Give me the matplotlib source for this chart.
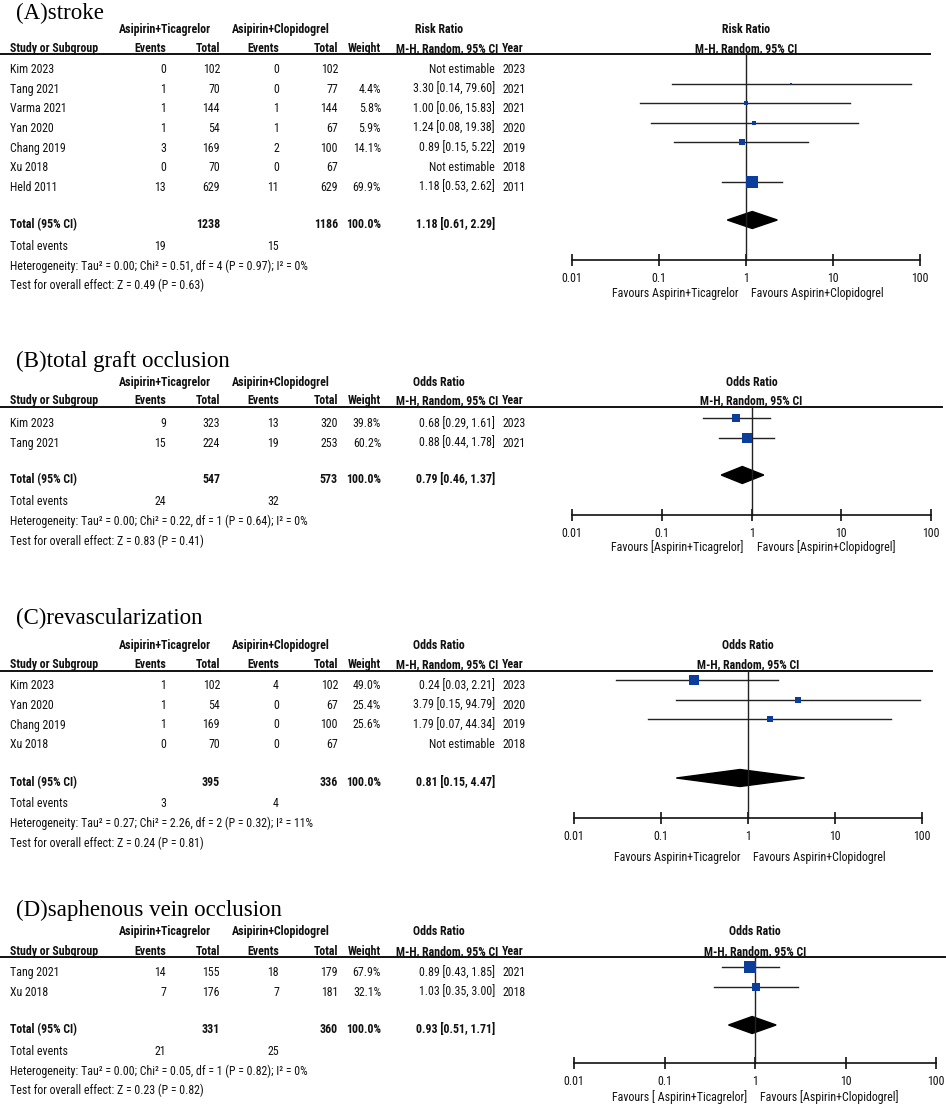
import numpy as np
import matplotlib
matplotlib.use('Agg')
import matplotlib.pyplot as plt
from matplotlib.patches import Polygon
from matplotlib.ticker import NullLocator

# ---- data ----
# (A) stroke
a_study = ['Kim 2023', 'Tang 2021', 'Varma 2021', 'Yan 2020', 'Chang 2019', 'Xu 2018', 'Held 2011']
a_ev1 = [0, 1, 1, 1, 3, 0, 13]
a_tot1 = [102, 70, 144, 54, 169, 70, 629]
a_ev2 = [0, 0, 1, 1, 2, 0, 11]
a_tot2 = [102, 77, 144, 67, 100, 67, 629]
a_weight = [None, 4.4, 5.8, 5.9, 14.1, None, 69.9]
a_est = [None, 3.30, 1.00, 1.24, 0.89, None, 1.18]
a_lo = [None, 0.14, 0.06, 0.08, 0.15, None, 0.53]
a_hi = [None, 79.60, 15.83, 19.38, 5.22, None, 2.62]
a_year = [2023, 2021, 2021, 2020, 2019, 2018, 2011]
a_total = [1238, 1186]
a_pooled = [1.18, 0.61, 2.29]
a_events = [19, 15]
a_het = [0.00, 0.51, 4, 0.97, 0]   # tau2, chi2, df, p, I2
a_z = [0.49, 0.63]

# (B) total graft occlusion
b_study = ['Kim 2023', 'Tang 2021']
b_ev1 = [9, 15]
b_tot1 = [323, 224]
b_ev2 = [13, 19]
b_tot2 = [320, 253]
b_weight = [39.8, 60.2]
b_est = [0.68, 0.88]
b_lo = [0.29, 0.44]
b_hi = [1.61, 1.78]
b_year = [2023, 2021]
b_total = [547, 573]
b_pooled = [0.79, 0.46, 1.37]
b_events = [24, 32]
b_het = [0.00, 0.22, 1, 0.64, 0]
b_z = [0.83, 0.41]

# (C) revascularization
c_study = ['Kim 2023', 'Yan 2020', 'Chang 2019', 'Xu 2018']
c_ev1 = [1, 1, 1, 0]
c_tot1 = [102, 54, 169, 70]
c_ev2 = [4, 0, 0, 0]
c_tot2 = [102, 67, 100, 67]
c_weight = [49.0, 25.4, 25.6, None]
c_est = [0.24, 3.79, 1.79, None]
c_lo = [0.03, 0.15, 0.07, None]
c_hi = [2.21, 94.79, 44.34, None]
c_year = [2023, 2020, 2019, 2018]
c_total = [395, 336]
c_pooled = [0.81, 0.15, 4.47]
c_events = [3, 4]
c_het = [0.27, 2.26, 2, 0.32, 11]
c_z = [0.24, 0.81]

# (D) saphenous vein occlusion
d_study = ['Tang 2021', 'Xu 2018']
d_ev1 = [14, 7]
d_tot1 = [155, 176]
d_ev2 = [18, 7]
d_tot2 = [179, 181]
d_weight = [67.9, 32.1]
d_est = [0.89, 1.03]
d_lo = [0.43, 0.35]
d_hi = [1.85, 3.00]
d_year = [2021, 2018]
d_total = [331, 360]
d_pooled = [0.93, 0.51, 1.71]
d_events = [21, 25]
d_het = [0.00, 0.05, 1, 0.82, 0]
d_z = [0.23, 0.82]

titles = ['(A)stroke', '(B)total graft occlusion', '(C)revascularization', '(D)saphenous vein occlusion']
measures = ['Risk Ratio', 'Odds Ratio', 'Odds Ratio', 'Odds Ratio']
fav_left = ['Favours Aspirin+Ticagrelor', 'Favours [Aspirin+Ticagrelor]',
            'Favours Aspirin+Ticagrelor', 'Favours [ Aspirin+Ticagrelor]']
fav_right = ['Favours Aspirin+Clopidogrel', 'Favours [Aspirin+Clopidogrel]',
             'Favours Aspirin+Clopidogrel', 'Favours [Aspirin+Clopidogrel]']
ticks = [0.01, 0.1, 1, 10, 100]
tick_labels = ['0.01', '0.1', '1', '10', '100']

panels = [
    (a_study, a_ev1, a_tot1, a_ev2, a_tot2, a_weight, a_est, a_lo, a_hi, a_year, a_total, a_pooled, a_events, a_het, a_z),
    (b_study, b_ev1, b_tot1, b_ev2, b_tot2, b_weight, b_est, b_lo, b_hi, b_year, b_total, b_pooled, b_events, b_het, b_z),
    (c_study, c_ev1, c_tot1, c_ev2, c_tot2, c_weight, c_est, c_lo, c_hi, c_year, c_total, c_pooled, c_events, c_het, c_z),
    (d_study, d_ev1, d_tot1, d_ev2, d_tot2, d_weight, d_est, d_lo, d_hi, d_year, d_total, d_pooled, d_events, d_het, d_z),
]

# ---- layout (pixels, y from top) ----
W, H = 946, 1106
layout = [
    dict(title=13, h1=29, h2=48, line=53.5, row0=69, total=224, events=246, het=266, test=285,
         axis=260, fav=293, x0=572, x1=920, xend=930),
    dict(title=361, h1=382, h2=400, line=406.5, row0=423, total=479, events=501, het=521, test=541,
         axis=515, fav=547, x0=572, x1=931, xend=942),
    dict(title=618, h1=645, h2=664, line=670.5, row0=685, total=782, events=803, het=823, test=843,
         axis=818, fav=857, x0=574, x1=922, xend=932),
    dict(title=910, h1=931, h2=951, line=957, row0=972, total=1029, events=1051, het=1071, test=1090,
         axis=1063, fav=1097, x0=574, x1=936, xend=945),
]
ROW_STEP = 19.6

# column positions
COL_STUDY = 10
COL_EV1 = 166
COL_TOT1 = 220
COL_EV2 = 279
COL_TOT2 = 338
COL_W = 381
COL_CI = 495
COL_CI_HEAD = 498
COL_YEAR = 502
GRP1_C = 165
GRP2_C = 281
RATIO_C = 439

BLUE = '#0a3d9c'
SANS = ['Roboto Condensed', 'DejaVu Sans']
FS = 8.6
SERIF = 'Liberation Serif'
BASE = 0.36 * FS * 100 / 72  # digit centre -> baseline

fig = plt.figure(figsize=(W / 100, H / 100), dpi=100)
bg = fig.add_axes([0, 0, 1, 1])
bg.set_xlim(0, W)
bg.set_ylim(H, 0)
bg.axis('off')


def txt(x, yc, s, ha='left', bold=False):
    bg.text(x, yc + BASE, s, ha=ha, va='baseline', fontsize=FS, family=SANS,
            fontweight='bold' if bold else 'normal', color='#111111')


for i, (study, ev1, tot1, ev2, tot2, wt, est, lo, hi, year, total, pooled, events, het, zz) in enumerate(panels):
    L = layout[i]
    bg.text(16, L['title'], titles[i], family=SERIF, fontsize=16.5, va='center', ha='left')

    # headers
    txt(GRP1_C, L['h1'], 'Asipirin+Ticagrelor', ha='center', bold=True)
    txt(GRP2_C, L['h1'], 'Asipirin+Clopidogrel', ha='center', bold=True)
    txt(RATIO_C, L['h1'], measures[i], ha='center', bold=True)
    txt(COL_STUDY, L['h2'], 'Study or Subgroup', bold=True)
    txt(COL_EV1, L['h2'], 'Events', ha='right', bold=True)
    txt(COL_TOT1, L['h2'], 'Total', ha='right', bold=True)
    txt(COL_EV2, L['h2'], 'Events', ha='right', bold=True)
    txt(COL_TOT2, L['h2'], 'Total', ha='right', bold=True)
    txt(COL_W, L['h2'], 'Weight', ha='right', bold=True)
    txt(COL_CI_HEAD, L['h2'], 'M-H, Random, 95% CI', ha='right', bold=True)
    txt(COL_YEAR, L['h2'], 'Year', bold=True)
    bg.plot([0, L['xend']], [L['line'], L['line']], color='#111111', lw=1.4)

    # study rows
    for j in range(len(study)):
        y = L['row0'] + j * ROW_STEP
        txt(COL_STUDY, y, study[j])
        txt(COL_EV1, y, str(ev1[j]), ha='right')
        txt(COL_TOT1, y, str(tot1[j]), ha='right')
        txt(COL_EV2, y, str(ev2[j]), ha='right')
        txt(COL_TOT2, y, str(tot2[j]), ha='right')
        if wt[j] is None:
            txt(COL_CI, y, 'Not estimable', ha='right')
        else:
            txt(COL_W, y, f'{wt[j]:.1f}%', ha='right')
            txt(COL_CI, y, f'{est[j]:.2f} [{lo[j]:.2f}, {hi[j]:.2f}]', ha='right')
        txt(COL_YEAR, y, str(year[j]))

    # totals
    txt(COL_STUDY, L['total'], 'Total (95% CI)', bold=True)
    txt(COL_TOT1, L['total'], str(total[0]), ha='right', bold=True)
    txt(COL_TOT2, L['total'], str(total[1]), ha='right', bold=True)
    txt(COL_W, L['total'], '100.0%', ha='right', bold=True)
    txt(COL_CI, L['total'], f'{pooled[0]:.2f} [{pooled[1]:.2f}, {pooled[2]:.2f}]', ha='right', bold=True)
    txt(COL_STUDY, L['events'], 'Total events')
    txt(COL_EV1, L['events'], str(events[0]), ha='right')
    txt(COL_EV2, L['events'], str(events[1]), ha='right')
    txt(COL_STUDY, L['het'],
        f'Heterogeneity: Tau\u00b2 = {het[0]:.2f}; Chi\u00b2 = {het[1]:.2f}, df = {het[2]} '
        f'(P = {het[3]:.2f}); I\u00b2 = {het[4]}%')
    txt(COL_STUDY, L['test'], f'Test for overall effect: Z = {zz[0]:.2f} (P = {zz[1]:.2f})')

    # forest plot
    ax = fig.add_axes([L['x0'] / W, 1 - L['axis'] / H, (L['x1'] - L['x0']) / W, (L['axis'] - L['line']) / H])
    ax.set_xscale('log')
    ax.set_xlim(0.01, 100)
    ax.set_ylim(L['axis'], L['line'])
    ax.patch.set_alpha(0)
    for s in ['top', 'right', 'left']:
        ax.spines[s].set_visible(False)
    ax.spines['bottom'].set_linewidth(1.2)
    ax.spines['bottom'].set_color('#111111')
    ax.set_xticks(ticks)
    ax.set_xticklabels(tick_labels)
    ax.xaxis.set_minor_locator(NullLocator())
    ax.set_yticks([])
    ax.tick_params(axis='x', direction='inout', length=9, width=1.2, pad=4, labelsize=FS, colors='#111111')
    for lab in ax.get_xticklabels():
        lab.set_family(SANS)

    ax.plot([1, 1], [L['axis'], L['line']], color='#222222', lw=1.0, clip_on=False)
    for j in range(len(study)):
        if est[j] is None:
            continue
        y = L['row0'] + j * ROW_STEP - 5
        ax.plot([lo[j], hi[j]], [y, y], color='#222222', lw=1.0, clip_on=False)
        side = 1.35 * np.sqrt(wt[j])
        ax.plot(est[j], y, 's', ms=side * 0.72, color=BLUE, mew=0, clip_on=False)
    yc = L['total'] - 4
    ax.add_patch(Polygon([(pooled[1], yc), (pooled[0], yc - 8.5), (pooled[2], yc), (pooled[0], yc + 8.5)],
                         closed=True, color='black', clip_on=False))

    xm = (L['x0'] + L['x1']) / 2
    txt(xm - 8, L['fav'], fav_left[i], ha='right')
    txt(xm + 5, L['fav'], fav_right[i], ha='left')
    txt(xm, L['h1'], measures[i], ha='center', bold=True)
    txt(xm, L['h2'], 'M-H, Random, 95% CI', ha='center', bold=True)

fig.savefig('out.png', dpi=100)
